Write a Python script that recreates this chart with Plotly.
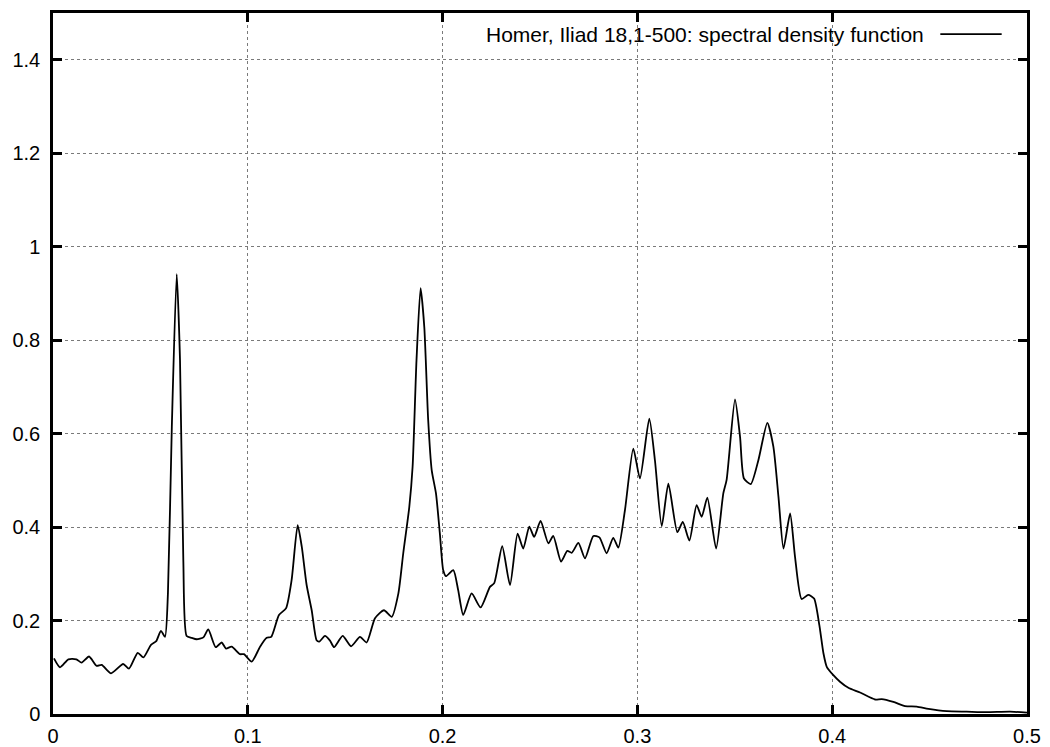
import plotly.graph_objects as go

freq = [0.0005, 0.0036, 0.0079, 0.012, 0.0147, 0.0185, 0.0224, 0.025, 0.0298, 0.036,
        0.039, 0.0435, 0.0464, 0.0503, 0.053, 0.0554, 0.0575, 0.059, 0.061, 0.0635,
        0.0652, 0.0669, 0.0686, 0.0712, 0.0737, 0.0772, 0.0797, 0.0835, 0.0866, 0.0888,
        0.0917, 0.096, 0.098, 0.102, 0.1063, 0.1097, 0.112, 0.116, 0.1196, 0.1225,
        0.1256, 0.1277, 0.1302, 0.1328, 0.1353, 0.1367, 0.1396, 0.1422, 0.1443, 0.1487,
        0.153, 0.1576, 0.161, 0.1653, 0.1699, 0.1739, 0.1773, 0.1798, 0.1829, 0.1846,
        0.1866, 0.1887, 0.1906, 0.1926, 0.1944, 0.1966, 0.1986, 0.2003, 0.2017, 0.2055,
        0.208, 0.2106, 0.2149, 0.2195, 0.2243, 0.2265, 0.2306, 0.2346, 0.2385, 0.2414,
        0.2445, 0.247, 0.2503, 0.2543, 0.2568, 0.2608, 0.264, 0.2663, 0.2697, 0.2731,
        0.2774, 0.2805, 0.2842, 0.2876, 0.2902, 0.2936, 0.2979, 0.3013, 0.3061, 0.309,
        0.3125, 0.3159, 0.3205, 0.3233, 0.3267, 0.3304, 0.333, 0.3359, 0.3404, 0.3441,
        0.3458, 0.3501, 0.3527, 0.3547, 0.3582, 0.3621, 0.3667, 0.3698, 0.3724, 0.375,
        0.3784, 0.3809, 0.3843, 0.3877, 0.3907, 0.3934, 0.3955, 0.3972, 0.4006, 0.404,
        0.4083, 0.4143, 0.422, 0.4254, 0.4314, 0.4374, 0.4434, 0.4494, 0.4588, 0.469,
        0.4793, 0.4913, 0.5]

density = [0.119, 0.100, 0.117, 0.117, 0.110, 0.123, 0.103, 0.105, 0.087, 0.107,
           0.097, 0.131, 0.121, 0.148, 0.156, 0.178, 0.165, 0.258, 0.615, 0.941,
           0.757, 0.329, 0.167, 0.163, 0.160, 0.164, 0.181, 0.143, 0.153, 0.140,
           0.144, 0.128, 0.128, 0.112, 0.144, 0.163, 0.165, 0.212, 0.226, 0.287,
           0.404, 0.358, 0.276, 0.222, 0.158, 0.155, 0.167, 0.157, 0.143, 0.167,
           0.145, 0.165, 0.153, 0.205, 0.222, 0.208, 0.258, 0.344, 0.443, 0.529,
           0.757, 0.911, 0.828, 0.629, 0.522, 0.472, 0.386, 0.308, 0.295, 0.308,
           0.265, 0.212, 0.258, 0.228, 0.272, 0.280, 0.359, 0.276, 0.386, 0.354,
           0.401, 0.379, 0.413, 0.365, 0.381, 0.326, 0.349, 0.345, 0.366, 0.333,
           0.381, 0.378, 0.344, 0.377, 0.356, 0.436, 0.568, 0.504, 0.632, 0.543,
           0.402, 0.493, 0.389, 0.411, 0.371, 0.447, 0.422, 0.463, 0.354, 0.472,
           0.501, 0.673, 0.593, 0.504, 0.492, 0.543, 0.623, 0.572, 0.465, 0.354,
           0.429, 0.337, 0.246, 0.255, 0.247, 0.190, 0.130, 0.101, 0.083, 0.069,
           0.056, 0.046, 0.031, 0.032, 0.026, 0.017, 0.016, 0.011, 0.006, 0.005,
           0.004, 0.005, 0.003]

legend_label = "Homer, Iliad 18,1-500: spectral density function"
x_ticks = [0, 0.1, 0.2, 0.3, 0.4, 0.5]
y_ticks = [0, 0.2, 0.4, 0.6, 0.8, 1.0, 1.2, 1.4]

FONT = "Liberation Sans, Arial, Helvetica, sans-serif"

fig = go.Figure()
fig.add_trace(go.Scatter(
    x=freq, y=density, mode="lines", name=legend_label,
    line=dict(color="black", width=1.8, shape="spline", smoothing=0.6),
    showlegend=False,
))

axis_common = dict(
    showline=True, linecolor="black", linewidth=2.5, mirror="ticks",
    ticks="inside", ticklen=9, tickwidth=2.5, tickcolor="black",
    showgrid=True, gridcolor="#7a7a7a", gridwidth=1, griddash="dot",
    zeroline=False, automargin=False,
    tickfont=dict(family=FONT, size=20, color="black"),
)

# page body adds an 8px offset, so the figure is sized to fit the 1050x747 window
fig.update_layout(
    width=1042, height=739,
    margin=dict(l=45, r=23, t=5, b=33),
    paper_bgcolor="white", plot_bgcolor="white",
    font=dict(family=FONT, size=20, color="black"),
    xaxis=dict(range=[0, 0.5], tickvals=x_ticks, ticktext=[f"{v:g}" for v in x_ticks],
               ticklabelstandoff=2, **axis_common),
    yaxis=dict(range=[0, 1.5], tickvals=y_ticks, ticktext=[f"{v:g}" for v in y_ticks],
               ticklabelstandoff=6, **axis_common),
)

# gnuplot-style key: text then line sample
fig.add_annotation(
    x=0.896, y=0.970, xref="paper", yref="paper",
    xanchor="right", yanchor="middle", showarrow=False,
    text=legend_label, font=dict(family=FONT, size=21, color="black"),
)
fig.add_shape(type="line", xref="paper", yref="paper",
              x0=0.911, x1=0.974, y0=0.970, y1=0.970,
              line=dict(color="black", width=1.8))

fig.write_html("out.html")
